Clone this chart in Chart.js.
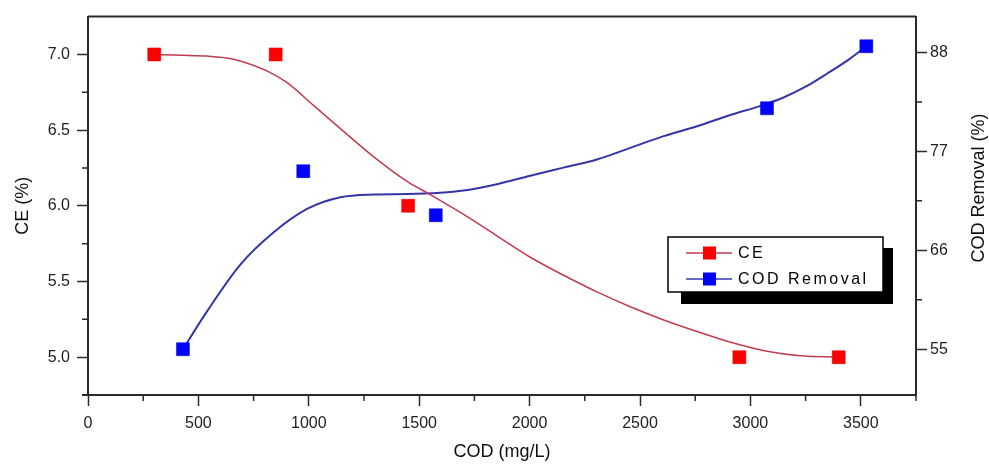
<!DOCTYPE html>
<html>
<head>
<meta charset="utf-8">
<script src="https://cdn.jsdelivr.net/npm/chart.js@4.4.0/dist/chart.umd.min.js"></script>
<style>
html, body { margin: 0; padding: 0; background: #fff; }
#wrap { width: 989px; height: 465px; }
</style>
</head>
<body>
<div id="wrap"><canvas id="myChart" width="989" height="465"></canvas></div>
<script>
// measured points
var ceX = [300, 850, 1450, 2950, 3400];
var ceY = [7.0, 7.0, 6.0, 5.0, 5.0];
var codX = [430, 975, 1575, 3075, 3525];
var codY = [55, 74.8, 69.9, 81.8, 88.7];

// fitted curves
var ceFitX = [300, 430, 540, 630, 700, 810, 900, 1020, 1143, 1293, 1445, 1550, 1701, 1852, 2003, 2154, 2305, 2456, 2607, 2758, 2923, 3075, 3226, 3400];
var ceFitY = [7.0, 6.995, 6.989, 6.976, 6.952, 6.891, 6.815, 6.665, 6.51, 6.325, 6.161, 6.074, 5.943, 5.802, 5.66, 5.541, 5.431, 5.333, 5.246, 5.17, 5.093, 5.039, 5.009, 5.0];
var codFitX = [430, 539, 690, 841, 992, 1143, 1293, 1445, 1596, 1701, 1852, 2003, 2154, 2305, 2456, 2607, 2758, 2909, 3050, 3150, 3250, 3350, 3450, 3525];
var codFitY = [55, 59.2, 64.4, 68.0, 70.6, 71.9, 72.2, 72.25, 72.4, 72.65, 73.35, 74.3, 75.2, 76.1, 77.4, 78.7, 79.8, 81.05, 82.1, 83.0, 84.2, 85.7, 87.3, 88.7];

// axis ticks
var xTicks = [0, 500, 1000, 1500, 2000, 2500, 3000, 3500];
var xMinor = [250, 750, 1250, 1750, 2250, 2750, 3250, 3750];
var ceTicks = [5.0, 5.5, 6.0, 6.5, 7.0];
var ceMinor = [5.25, 5.75, 6.25, 6.75];
var codTicks = [55, 66, 77, 88];
var codMinor = [60.5, 71.5, 82.5];

function pts(xs, ys) {
    return xs.map(function (x, i) { return { x: x, y: ys[i] }; });
}
function fixTicks(list) {
    return function (scale) {
        scale.ticks = list.map(function (v) { return { value: v }; });
    };
}

var axisColor = '#2a2a2a';
Chart.defaults.font.family = "'Liberation Sans', Arial, sans-serif";
Chart.defaults.color = '#222';

var extras = {
    id: 'extras',
    afterDraw: function (chart) {
        var ctx = chart.ctx;
        var a = chart.chartArea;
        var sx = chart.scales.x, sy = chart.scales.y, sy1 = chart.scales.y1;
        ctx.save();
        ctx.strokeStyle = axisColor;
        ctx.lineWidth = 2;
        // top frame + small overhang of the x axis
        ctx.beginPath();
        ctx.moveTo(a.left, a.top);
        ctx.lineTo(a.right, a.top);
        ctx.moveTo(a.left - 6, a.bottom);
        ctx.lineTo(a.left, a.bottom);
        ctx.stroke();
        // minor ticks
        ctx.lineWidth = 1.5;
        ctx.beginPath();
        xMinor.forEach(function (v) {
            var p = sx.getPixelForValue(v);
            ctx.moveTo(p, a.bottom); ctx.lineTo(p, a.bottom + 6);
        });
        ceMinor.forEach(function (v) {
            var p = sy.getPixelForValue(v);
            ctx.moveTo(a.left, p); ctx.lineTo(a.left - 6, p);
        });
        codMinor.forEach(function (v) {
            var p = sy1.getPixelForValue(v);
            ctx.moveTo(a.right, p); ctx.lineTo(a.right + 6, p);
        });
        ctx.stroke();

        // right axis title, reading bottom to top
        ctx.fillStyle = '#111';
        ctx.font = "18px 'Liberation Sans', Arial, sans-serif";
        ctx.textAlign = 'center';
        ctx.textBaseline = 'middle';
        ctx.translate(979, 188);
        ctx.rotate(-Math.PI / 2);
        ctx.fillText('COD Removal (%)', 0, 0);
        ctx.restore();

        // legend with drop shadow
        var ds = chart.data.datasets;
        ctx.save();
        ctx.fillStyle = '#000';
        ctx.fillRect(681, 248, 212, 56);
        ctx.fillStyle = '#fff';
        ctx.fillRect(668, 237, 215, 55);
        ctx.strokeStyle = '#000';
        ctx.lineWidth = 1.5;
        ctx.strokeRect(668, 237, 215, 55);
        [[0, 2, 253], [1, 3, 279]].forEach(function (r) {
            var mark = ds[r[0]], line = ds[r[1]], y = r[2];
            ctx.strokeStyle = line.borderColor;
            ctx.lineWidth = 1.5;
            ctx.beginPath();
            ctx.moveTo(686, y); ctx.lineTo(732, y);
            ctx.stroke();
            ctx.fillStyle = mark.backgroundColor;
            ctx.fillRect(703, y - 6.5, 13, 13);
            ctx.fillStyle = '#000';
            ctx.font = "16px 'Liberation Sans', Arial, sans-serif";
            ctx.letterSpacing = '2.5px';
            ctx.textAlign = 'left';
            ctx.textBaseline = 'middle';
            ctx.fillText(mark.label, 738, y + 1);
        });
        ctx.restore();
    }
};

var ctx = document.getElementById('myChart');
var myChart = new Chart(ctx, {
    type: 'scatter',
    data: {
        datasets: [
            {
                label: 'CE',
                data: pts(ceX, ceY),
                yAxisID: 'y',
                pointStyle: 'rect',
                pointRadius: 9.2,
                backgroundColor: '#ff0000',
                borderColor: '#e00000',
                borderWidth: 0.5
            },
            {
                label: 'COD Removal',
                data: pts(codX, codY),
                yAxisID: 'y1',
                pointStyle: 'rect',
                pointRadius: 9.2,
                backgroundColor: '#0000ff',
                borderColor: '#0000e0',
                borderWidth: 0.5
            },
            {
                label: 'CE fit',
                data: pts(ceFitX, ceFitY),
                yAxisID: 'y',
                showLine: true,
                pointRadius: 0,
                borderColor: '#c23b4e',
                borderWidth: 1.5,
                cubicInterpolationMode: 'monotone'
            },
            {
                label: 'COD fit',
                data: pts(codFitX, codFitY),
                yAxisID: 'y1',
                showLine: true,
                pointRadius: 0,
                borderColor: '#3535a8',
                borderWidth: 2,
                cubicInterpolationMode: 'monotone'
            }
        ]
    },
    options: {
        responsive: false,
        animation: false,
        events: [],
        layout: { padding: { top: 12, left: 0, right: 0, bottom: 0 }, autoPadding: false },
        plugins: {
            legend: { display: false },
            tooltip: { enabled: false }
        },
        scales: {
            x: {
                type: 'linear',
                position: 'bottom',
                min: 0,
                max: 3750,
                afterBuildTicks: fixTicks(xTicks),
                afterFit: function (s) { s.height = 70; },
                ticks: { font: { size: 16 }, padding: 8, maxRotation: 0, autoSkip: false,
                         callback: function (v) { return String(v); } },
                grid: { drawOnChartArea: false, tickLength: 11, tickColor: axisColor, tickWidth: 1.5 },
                border: { color: axisColor, width: 2 },
                title: { display: true, text: 'COD (mg/L)', font: { size: 18 }, color: '#111', padding: { top: 0, bottom: 2 } }
            },
            y: {
                type: 'linear',
                position: 'left',
                min: 4.75,
                max: 7.25,
                afterBuildTicks: fixTicks(ceTicks),
                afterFit: function (s) { s.width = 88; },
                ticks: { font: { size: 16 }, padding: 7, callback: function (v) { return v.toFixed(1); } },
                grid: { drawOnChartArea: false, tickLength: 11, tickColor: axisColor, tickWidth: 1.5 },
                border: { color: axisColor, width: 2 },
                title: { display: true, text: 'CE (%)', font: { size: 18 }, color: '#111', padding: { top: 12, bottom: 0 } }
            },
            y1: {
                type: 'linear',
                position: 'right',
                min: 49.9,
                max: 92,
                afterBuildTicks: fixTicks(codTicks),
                afterFit: function (s) { s.width = 73; },
                ticks: { font: { size: 16 }, padding: 3 },
                grid: { drawOnChartArea: false, tickLength: 11, tickColor: axisColor, tickWidth: 1.5 },
                border: { color: axisColor, width: 2 }
            }
        }
    },
    plugins: [extras]
});
</script>
</body>
</html>
